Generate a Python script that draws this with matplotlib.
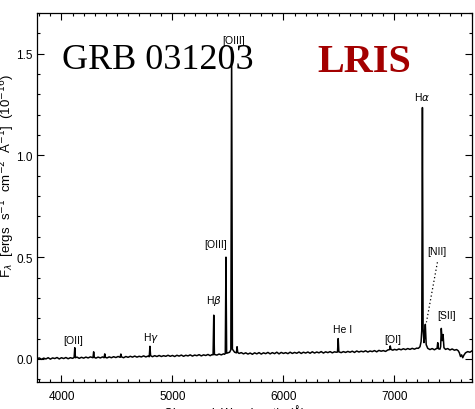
import matplotlib
matplotlib.use("Agg")
import matplotlib.pyplot as plt
from matplotlib.ticker import MultipleLocator

# observed wavelength (A) and flux (1e-16 erg/s/cm2/A)
wave = [3780, 3800, 3820, 3840, 3860, 3880, 3900, 3920, 3940, 3960, 3980, 4000,
        4020, 4040, 4060, 4080, 4100, 4114, 4120, 4126, 4140, 4160, 4180, 4200,
        4220, 4240, 4260, 4284, 4290, 4296, 4310, 4330, 4350, 4370, 4384, 4390,
        4396, 4410, 4430, 4450, 4470, 4490, 4510, 4529, 4535, 4541, 4560, 4580,
        4600, 4620, 4640, 4660, 4680, 4700, 4720, 4740, 4760, 4780, 4791, 4797,
        4803, 4820, 4840, 4860, 4880, 4900, 4920, 4940, 4960, 4980, 5000, 5020,
        5040, 5060, 5080, 5100, 5120, 5140, 5160, 5180, 5200, 5220, 5240, 5260,
        5280, 5300, 5320, 5340, 5355, 5366, 5372, 5378, 5400, 5420, 5440, 5460,
        5470, 5476, 5482, 5488, 5500, 5515, 5526, 5533, 5540, 5560, 5576, 5582,
        5588, 5600, 5620, 5640, 5660, 5680, 5700, 5720, 5740, 5760, 5780, 5800,
        5820, 5840, 5860, 5880, 5900, 5920, 5940, 5960, 5980, 6000, 6020, 6040,
        6060, 6080, 6100, 6120, 6140, 6160, 6180, 6200, 6220, 6240, 6260, 6280,
        6300, 6320, 6340, 6360, 6380, 6400, 6420, 6440, 6460, 6475, 6487, 6493,
        6499, 6520, 6540, 6560, 6580, 6600, 6620, 6640, 6660, 6680, 6700, 6720,
        6740, 6760, 6780, 6800, 6820, 6840, 6860, 6880, 6900, 6920, 6940, 6956,
        6962, 6968, 6985, 7000, 7020, 7040, 7060, 7080, 7100, 7120, 7140, 7160,
        7180, 7200, 7215, 7230, 7240, 7246, 7252, 7258, 7266, 7272, 7278, 7286,
        7300, 7320, 7340, 7360, 7375, 7384, 7390, 7396, 7410, 7416, 7422, 7430,
        7438, 7446, 7460, 7480, 7500, 7520, 7540, 7560, 7575, 7585, 7595, 7605,
        7615, 7625, 7640, 7660, 7680, 7700]
flux = [0.001, 0.005, -0.002, 0.004, 0.000, 0.006, -0.001, 0.005, 0.002, 0.007, 0.000, 0.006,
        0.002, 0.007, 0.001, 0.006, 0.003, 0.007, 0.055, 0.006, 0.009, 0.003, 0.008, 0.004,
        0.009, 0.005, 0.010, 0.006, 0.035, 0.008, 0.004, 0.009, 0.005, 0.010, 0.006, 0.025,
        0.008, 0.005, 0.010, 0.006, 0.011, 0.007, 0.012, 0.008, 0.024, 0.010, 0.006, 0.012,
        0.008, 0.013, 0.009, 0.014, 0.009, 0.013, 0.010, 0.015, 0.010, 0.014, 0.011, 0.062,
        0.016, 0.011, 0.016, 0.012, 0.017, 0.012, 0.016, 0.013, 0.018, 0.013, 0.017, 0.012,
        0.018, 0.014, 0.019, 0.013, 0.018, 0.015, 0.020, 0.014, 0.019, 0.016, 0.021, 0.015,
        0.020, 0.017, 0.022, 0.016, 0.021, 0.020, 0.215, 0.022, 0.019, 0.024, 0.020, 0.025,
        0.023, 0.027, 0.500, 0.028, 0.030, 0.033, 0.045, 1.530, 0.048, 0.033, 0.030, 0.060,
        0.032, 0.027, 0.031, 0.025, 0.030, 0.024, 0.029, 0.023, 0.030, 0.025, 0.031, 0.024,
        0.030, 0.026, 0.032, 0.025, 0.031, 0.026, 0.033, 0.025, 0.032, 0.027, 0.031, 0.026,
        0.033, 0.027, 0.032, 0.028, 0.034, 0.027, 0.033, 0.029, 0.034, 0.028, 0.035, 0.029,
        0.034, 0.030, 0.036, 0.029, 0.035, 0.031, 0.036, 0.030, 0.035, 0.033, 0.034, 0.100,
        0.035, 0.031, 0.036, 0.032, 0.037, 0.033, 0.038, 0.032, 0.039, 0.034, 0.038, 0.035,
        0.040, 0.034, 0.039, 0.036, 0.041, 0.035, 0.042, 0.038, 0.041, 0.037, 0.044, 0.046,
        0.064, 0.047, 0.043, 0.047, 0.044, 0.049, 0.045, 0.050, 0.046, 0.051, 0.047, 0.052,
        0.048, 0.053, 0.052, 0.060, 0.085, 0.140, 1.235, 0.150, 0.080, 0.110, 0.170, 0.070,
        0.052, 0.046, 0.051, 0.045, 0.050, 0.052, 0.080, 0.050, 0.048, 0.060, 0.150, 0.090,
        0.120, 0.055, 0.047, 0.051, 0.044, 0.049, 0.043, 0.046, 0.040, 0.030, 0.012, 0.020,
        0.006, 0.018, 0.030, 0.036, 0.033, 0.040]

# line identifications: label text and label position (wavelength, flux)
line_labels = ["[OII]", r"H$\gamma$", r"H$\beta$", "[OIII]", "[OIII]",
               "He I", "[OI]", r"H$\alpha$", "[NII]", "[SII]"]
label_wave = [4108, 4811, 5370, 5387, 5550, 6532, 6982, 7252, 7378, 7468]
label_flux = [0.093, 0.11, 0.29, 0.565, 1.565, 0.147, 0.098, 1.29, 0.53, 0.216]

# dotted pointer from the [NII] label down to the line
nii_pointer_wave = [7387, 7288]
nii_pointer_flux = [0.475, 0.18]

plt.rcParams["font.family"] = ["Liberation Sans", "DejaVu Sans"]
plt.rcParams["mathtext.fontset"] = "dejavusans"

fig = plt.figure(figsize=(4.75, 4.10), dpi=100)
ax = fig.add_axes([0.078, 0.066, 0.916, 0.900])

ax.plot(wave, flux, color="black", lw=1.1)
ax.plot(nii_pointer_wave, nii_pointer_flux, color="black", lw=0.9, ls=(0, (1, 2)))

for txt, x, y in zip(line_labels, label_wave, label_flux):
    ax.text(x, y, txt, fontsize=7.5, ha="center", va="center")

ax.text(0.058, 0.85, "GRB 031203", transform=ax.transAxes, fontsize=26,
        family=["Liberation Serif", "DejaVu Serif"], ha="left", va="baseline")
ax.text(0.645, 0.843, "LRIS", transform=ax.transAxes, fontsize=29, fontweight="bold",
        family=["Liberation Serif", "DejaVu Serif"], color="#a30000",
        ha="left", va="baseline")

ax.set_xlim(3780, 7700)
ax.set_ylim(-0.113, 1.70)
ax.xaxis.set_major_locator(MultipleLocator(1000))
ax.xaxis.set_minor_locator(MultipleLocator(100))
ax.yaxis.set_major_locator(MultipleLocator(0.5))
ax.yaxis.set_minor_locator(MultipleLocator(0.1))
ax.tick_params(which="both", direction="in", top=True, right=True, labelsize=8.5, width=0.8)
ax.tick_params(which="major", length=5)
ax.tick_params(which="minor", length=2.5)
ax.tick_params(axis="x", pad=6)
ax.tick_params(axis="y", pad=3)
for s in ax.spines.values():
    s.set_linewidth(0.9)

# axis titles sit partly outside the canvas, as in the original figure
fig.text(235 / 475, 5 / 410, "Observed  Wavelength  (\u00c5)", fontsize=8.5,
         ha="center", va="top")
fig.text(6 / 475, 132 / 410,
         "F$_\\lambda$  [ergs  s$^{-1}$  cm$^{-2}$  \u00c5$^{-1}$]  (10$^{-16}$)",
         fontsize=9.5, rotation=90, ha="center", va="bottom")

fig.savefig("out.png", dpi=100)
